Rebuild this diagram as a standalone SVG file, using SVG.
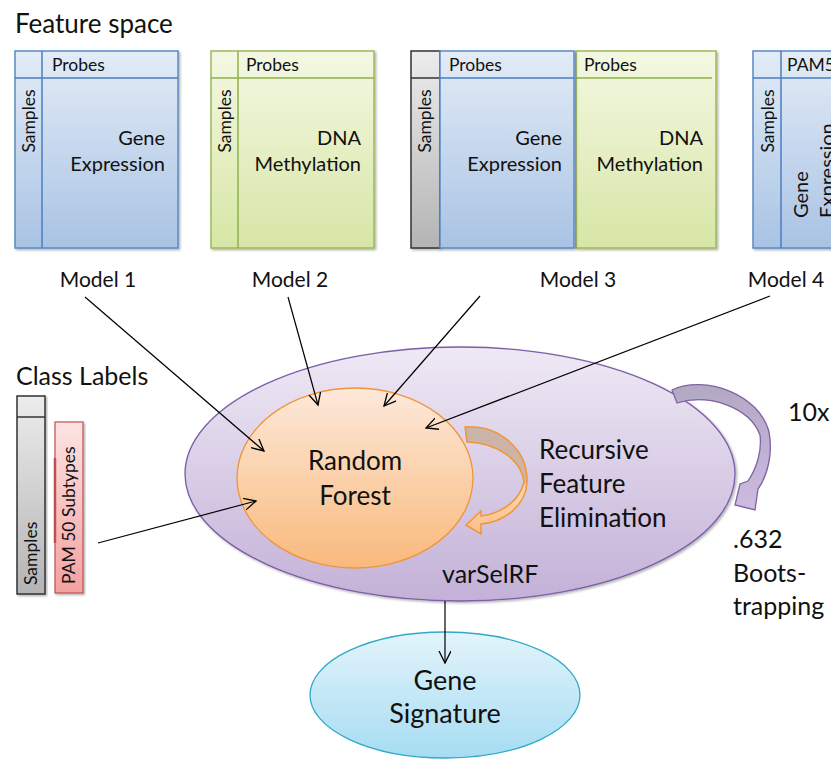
<svg xmlns="http://www.w3.org/2000/svg" width="831" height="759" viewBox="0 0 831 759">
  <defs>
    <linearGradient id="gBlue" x1="0" y1="0" x2="0" y2="1">
      <stop offset="0" stop-color="#e3ecf7"/>
      <stop offset="1" stop-color="#a9c3e4"/>
    </linearGradient>
    <linearGradient id="gGreen" x1="0" y1="0" x2="0" y2="1">
      <stop offset="0" stop-color="#f4f8e2"/>
      <stop offset="1" stop-color="#d7e6a6"/>
    </linearGradient>
    <linearGradient id="gGray" x1="0" y1="0" x2="0" y2="1">
      <stop offset="0" stop-color="#ececec"/>
      <stop offset="1" stop-color="#b4b4b4"/>
    </linearGradient>
    <linearGradient id="gRed" x1="0" y1="0" x2="0" y2="1">
      <stop offset="0" stop-color="#fde3e3"/>
      <stop offset="1" stop-color="#f3a1a1"/>
    </linearGradient>
    <linearGradient id="gPurple" x1="0" y1="0" x2="0" y2="1">
      <stop offset="0" stop-color="#efe9f5"/>
      <stop offset="1" stop-color="#c3b1d7"/>
    </linearGradient>
    <linearGradient id="gOrange" x1="0" y1="0" x2="0" y2="1">
      <stop offset="0" stop-color="#fde9da"/>
      <stop offset="1" stop-color="#f9b97c"/>
    </linearGradient>
    <linearGradient id="gSky" x1="0" y1="0" x2="0" y2="1">
      <stop offset="0" stop-color="#e3f4fb"/>
      <stop offset="1" stop-color="#a6dcf2"/>
    </linearGradient>
    <linearGradient id="gLoopOrange" gradientUnits="userSpaceOnUse" x1="0" y1="427" x2="0" y2="533">
      <stop offset="0" stop-color="#c9b4a8"/>
      <stop offset="0.5" stop-color="#d2b5a0"/>
      <stop offset="0.58" stop-color="#fdd7b3"/>
      <stop offset="1" stop-color="#fbbf87"/>
    </linearGradient>
    <linearGradient id="gLoopPurple" gradientUnits="userSpaceOnUse" x1="0" y1="380" x2="0" y2="510">
      <stop offset="0" stop-color="#b2a8c2"/>
      <stop offset="0.4" stop-color="#bcaed0"/>
      <stop offset="1" stop-color="#cdbbe0"/>
    </linearGradient>
    <filter id="shadow" x="-10%" y="-10%" width="120%" height="120%">
      <feDropShadow dx="1.5" dy="1.5" stdDeviation="1.2" flood-color="#000" flood-opacity="0.3"/>
    </filter>
    <marker id="arrow" markerUnits="userSpaceOnUse" markerWidth="16" markerHeight="14" refX="12" refY="6" orient="auto">
      <path d="M0,0 L12,6 L0,12" fill="none" stroke="#000" stroke-width="1.3"/>
    </marker>
  </defs>
  <style>
    text { font-family: Lato, "Open Sans", "Liberation Sans", sans-serif; fill: #111; }
    .blue { fill: url(#gBlue); stroke: #5a8ac6; stroke-width: 1.5; }
    .green { fill: url(#gGreen); stroke: #9bbb59; stroke-width: 1.5; }
    .gray { fill: url(#gGray); stroke: #333; stroke-width: 1.5; }
    .bl { stroke: #4a7ebf; stroke-width: 1.5; fill: none; }
    .gl { stroke: #8fb14c; stroke-width: 1.5; fill: none; }
    .hdr { font-size: 17.5px; }
    .rot { font-size: 17.5px; }
    .big { font-size: 20px; }
    .model { font-size: 21px; }
    .title { font-size: 26px; }
    .label { font-size: 26px; }
    .side { font-size: 25px; }
    .conn { stroke: #000; stroke-width: 1.2; fill: none; marker-end: url(#arrow); }
  </style>

  <text class="title" x="15" y="33">Feature space</text>

  <!-- Model 1: gene expression matrix -->
  <g id="model1">
    <rect class="blue" x="15" y="51" width="163" height="197" filter="url(#shadow)"/>
    <line class="bl" x1="15" y1="78" x2="178" y2="78"/>
    <line class="bl" x1="42" y1="51" x2="42" y2="248"/>
    <text class="hdr" x="52" y="71">Probes</text>
    <text class="rot" transform="translate(35,121) rotate(-90)" text-anchor="middle">Samples</text>
    <text class="big" x="165" y="145" text-anchor="end">Gene</text>
    <text class="big" x="165" y="171" text-anchor="end">Expression</text>
    <text class="model" x="98" y="287" text-anchor="middle">Model 1</text>
  </g>

  <!-- Model 2: methylation matrix -->
  <g id="model2">
    <rect class="green" x="211" y="51" width="163" height="197" filter="url(#shadow)"/>
    <line class="gl" x1="211" y1="78" x2="374" y2="78"/>
    <line class="gl" x1="238" y1="51" x2="238" y2="248"/>
    <text class="hdr" x="246" y="71">Probes</text>
    <text class="rot" transform="translate(231,121) rotate(-90)" text-anchor="middle">Samples</text>
    <text class="big" x="361" y="145" text-anchor="end">DNA</text>
    <text class="big" x="361" y="171" text-anchor="end">Methylation</text>
    <text class="model" x="290" y="287" text-anchor="middle">Model 2</text>
  </g>

  <!-- Model 3: combined matrices -->
  <g id="model3">
    <rect class="gray" x="411" y="51" width="29" height="197" filter="url(#shadow)"/>
    <line x1="411" y1="78" x2="440" y2="78" stroke="#333" stroke-width="1.5"/>
    <rect class="green" x="576" y="51" width="140" height="197" filter="url(#shadow)"/>
    <line class="gl" x1="576" y1="78" x2="712" y2="78"/>
    <rect class="blue" x="440" y="51" width="134" height="197" filter="url(#shadow)"/>
    <line class="bl" x1="440" y1="78" x2="574" y2="78"/>
    <text class="hdr" x="449" y="71">Probes</text>
    <text class="hdr" x="584" y="71">Probes</text>
    <text class="rot" transform="translate(431,121) rotate(-90)" text-anchor="middle">Samples</text>
    <text class="big" x="562" y="145" text-anchor="end">Gene</text>
    <text class="big" x="562" y="171" text-anchor="end">Expression</text>
    <text class="big" x="703" y="145" text-anchor="end">DNA</text>
    <text class="big" x="703" y="171" text-anchor="end">Methylation</text>
    <text class="model" x="578" y="287" text-anchor="middle">Model 3</text>
  </g>

  <!-- Model 4: PAM50 genes (runs off the right edge) -->
  <g id="model4">
    <rect class="blue" x="753" y="51" width="100" height="197" filter="url(#shadow)"/>
    <line class="bl" x1="753" y1="78" x2="831" y2="78"/>
    <line class="bl" x1="781" y1="51" x2="781" y2="248"/>
    <text class="hdr" x="787" y="71">PAM50</text>
    <text class="rot" transform="translate(774,121) rotate(-90)" text-anchor="middle">Samples</text>
    <text class="big" transform="translate(808,218) rotate(-90)">Gene</text>
    <text class="big" transform="translate(834,218) rotate(-90)">Expression</text>
    <text class="model" x="786" y="287" text-anchor="middle">Model 4</text>
  </g>

  <!-- Class labels -->
  <g id="class-labels">
    <text class="title" x="16" y="385" style="font-size:25px">Class Labels</text>
    <rect class="gray" x="17" y="396" width="28" height="198" filter="url(#shadow)"/>
    <line x1="17" y1="417" x2="45" y2="417" stroke="#333" stroke-width="1.5"/>
    <text class="rot" transform="translate(37,585) rotate(-90)">Samples</text>
    <rect x="55" y="422" width="28" height="171" fill="url(#gRed)" stroke="#c0504d" stroke-width="1.2" filter="url(#shadow)"/>
    <line x1="55" y1="458" x2="55" y2="543" stroke="#c0504d" stroke-width="2.5"/>
    <text class="rot" transform="translate(75,584) rotate(-90)">PAM 50 Subtypes</text>
  </g>

  <!-- varSelRF wrapper -->
  <g id="varselrf">
    <ellipse cx="460" cy="474" rx="275" ry="127" fill="url(#gPurple)" stroke="#7b5ea7" stroke-width="1.3" filter="url(#shadow)"/>
    <text class="label" x="442" y="583" style="font-size:25px">varSelRF</text>
  </g>

  <!-- Random forest -->
  <g id="random-forest">
    <ellipse cx="355" cy="478" rx="118" ry="90" fill="url(#gOrange)" stroke="#f0953a" stroke-width="1.3"/>
    <text class="label" x="355" y="470" text-anchor="middle">Random</text>
    <text class="label" x="355" y="505" text-anchor="middle">Forest</text>
  </g>

  <!-- Recursive feature elimination loop -->
  <g id="rfe">
    <path d="M465,427 C500,425 528,450 527,482 C526,505 505,522 481,524 L481,534 L466,525 L481,511 L481,516 C503,513 520,500 524,482 C522,462 500,443 467,442 Z" fill="url(#gLoopOrange)" stroke="#f0953a" stroke-width="1.5"/>
    <text class="label" x="539" y="459">Recursive</text>
    <text class="label" x="539" y="493">Feature</text>
    <text class="label" x="539" y="527">Elimination</text>
  </g>

  <!-- Bootstrapping loop -->
  <g id="bootstrap">
    <path d="M672,390 C705,374 760,395 769,432 C773,452 768,475 758,489 L755,510 L735,505 L740,484 L748,481 C757,468 762,450 760,435 C750,408 710,393 677,403 Z" fill="url(#gLoopPurple)" stroke="#8064a2" stroke-width="1.3"/>
    <text class="side" x="788" y="421">10x</text>
    <text class="side" x="733" y="548">.632</text>
    <text class="side" x="733" y="582">Boots-</text>
    <text class="side" x="733" y="615">trapping</text>
  </g>

  <!-- Output -->
  <g id="gene-signature">
    <ellipse cx="445" cy="695" rx="135" ry="63" fill="url(#gSky)" stroke="#31a9c6" stroke-width="1.3"/>
    <text class="label" x="445" y="690" text-anchor="middle" style="font-size:27px">Gene</text>
    <text class="label" x="445" y="723" text-anchor="middle" style="font-size:27px">Signature</text>
  </g>

  <!-- Connectors -->
  <g id="connectors">
    <line class="conn" x1="85" y1="297" x2="264" y2="451"/>
    <line class="conn" x1="288" y1="297" x2="318" y2="405"/>
    <line class="conn" x1="480" y1="296" x2="384" y2="406"/>
    <line class="conn" x1="770" y1="296" x2="426" y2="428"/>
    <line class="conn" x1="98" y1="543" x2="256" y2="501"/>
    <line class="conn" x1="445" y1="601" x2="445" y2="663"/>
  </g>
</svg>
